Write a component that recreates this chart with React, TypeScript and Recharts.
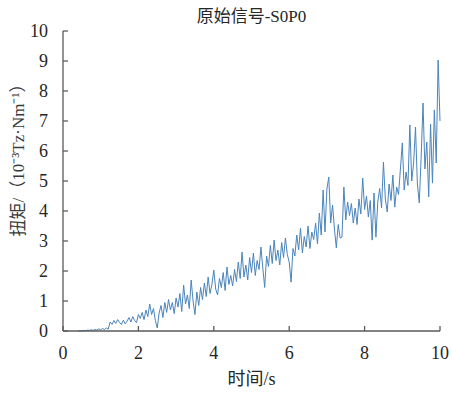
import React from "react";
import { LineChart, Line, XAxis, YAxis, Label } from "recharts";

const timeStart = 0.4;
const timeStep = 0.05;

const torque: number[] = [
  0.0, 0.01, 0.0, 0.02, 0.01, 0.03, 0.02, 0.04, 0.02, 0.05,
  0.03, 0.07, 0.04, 0.08, 0.05, 0.1, 0.06, 0.3, 0.22, 0.35,
  0.25, 0.38, 0.28, 0.22, 0.36, 0.24, 0.33, 0.45, 0.3, 0.48,
  0.35, 0.28, 0.55, 0.42, 0.62, 0.38, 0.7, 0.48, 0.9, 0.55,
  0.75, 0.35, 0.1, 0.6, 0.85, 0.45, 0.95, 0.62, 1.05, 0.7,
  0.95, 0.58, 1.1, 0.8, 1.25, 0.65, 1.53, 0.9, 1.2, 0.75,
  1.7, 1.0, 0.55, 1.3, 0.85, 1.45, 1.05, 1.6, 1.15, 1.8,
  1.25, 1.55, 2.03, 1.4, 1.2, 1.75, 1.45, 1.95, 1.35, 2.13,
  1.55, 1.85, 1.5, 2.05, 1.65, 2.3, 1.75, 2.63, 1.8, 2.2,
  1.7, 2.45, 1.95, 2.6, 1.85, 2.35, 2.05, 2.8, 2.1, 1.45,
  2.5, 2.15, 2.85, 2.25, 3.03, 2.35, 2.7, 2.2, 2.95, 2.45,
  3.1, 2.55, 2.3, 1.63, 2.75, 2.5, 3.2, 2.7, 3.43, 2.6,
  3.15, 2.8, 3.5, 2.75, 3.3, 3.05, 3.6, 2.9, 3.93, 3.2,
  4.7, 3.3, 4.73, 5.13, 3.6, 4.2, 3.4, 2.77, 3.55, 3.1,
  3.13, 4.8, 3.7, 4.3, 3.85, 4.25, 3.6, 4.1, 3.55, 4.4,
  3.9, 5.1, 4.05, 4.5, 3.8, 4.35, 3.03, 4.6, 3.13, 4.3,
  4.75, 4.1, 5.63, 4.4, 3.97, 4.9, 4.35, 5.2, 4.13, 4.8,
  4.55, 5.4, 6.27, 4.7, 5.3, 4.85, 6.87, 5.0, 5.6, 6.8,
  4.9, 4.27, 5.8, 7.6, 5.4, 6.3, 4.47, 6.9, 4.93, 7.37,
  5.6, 9.03, 7.0,
];

const xTicks = [0, 2, 4, 6, 8, 10];
const yTicks = [0, 1, 2, 3, 4, 5, 6, 7, 8, 9, 10];

const titleText = "原始信号-S0P0";
const xLabelText = "时间/s";
const yLabelText = "扭矩/（10⁻³Tz·Nm⁻¹）";

const data = torque.map((v, i) => ({
  t: Math.round((timeStart + i * timeStep) * 100) / 100,
  v,
}));

const FONT = "'Liberation Serif', 'Times New Roman', 'Noto Sans CJK SC', serif";
const AXIS_COLOR = "#5a5a5a";
const TEXT_COLOR = "#262626";

const XTick = (props: any) => {
  const { x, y, payload } = props;
  return (
    <g>
      <line x1={x} y1={y} x2={x} y2={y - 5} stroke={AXIS_COLOR} strokeWidth={1.3} />
      <text
        x={x}
        y={y + 22}
        textAnchor="middle"
        dominantBaseline="central"
        fontFamily={FONT}
        fontSize={18}
        fill={TEXT_COLOR}
      >
        {payload.value}
      </text>
    </g>
  );
};

const YTick = (props: any) => {
  const { x, y, payload } = props;
  return (
    <g>
      <line x1={x} y1={y} x2={x + 5} y2={y} stroke={AXIS_COLOR} strokeWidth={1.3} />
      <text
        x={x - 15}
        y={y}
        textAnchor="end"
        dominantBaseline="central"
        fontFamily={FONT}
        fontSize={18}
        fill={TEXT_COLOR}
      >
        {payload.value}
      </text>
    </g>
  );
};

const XLabelContent = (props: any) => {
  const vb = props.viewBox || {};
  const cx = vb.x + vb.width / 2;
  return (
    <g>
      <text
        x={cx}
        y={vb.y + 48}
        textAnchor="middle"
        dominantBaseline="central"
        fontFamily={FONT}
        fontSize={18}
        fill={TEXT_COLOR}
      >
        {xLabelText}
      </text>
      <text
        x={cx}
        y={16}
        textAnchor="middle"
        dominantBaseline="central"
        fontFamily={FONT}
        fontSize={17}
        fill={TEXT_COLOR}
      >
        {titleText}
      </text>
    </g>
  );
};

const YLabelContent = (props: any) => {
  const vb = props.viewBox || {};
  const cx = vb.x + 10;
  const cy = vb.y + vb.height / 2 - 25;
  return (
    <text
      x={cx}
      y={cy}
      transform={`rotate(-90, ${cx}, ${cy})`}
      textAnchor="middle"
      dominantBaseline="central"
      fontFamily={FONT}
      fontSize={17}
      fill="#3a3a3a"
    >
      {yLabelText}
    </text>
  );
};

export default function App() {
  return (
    <div style={{ width: 452, height: 394 }}>
      <style>{`html, body { margin: 0; padding: 0; overflow: hidden; }`}</style>
      <LineChart
        width={452}
        height={394}
        data={data}
        margin={{ top: 31, right: 12, left: 8, bottom: 8 }}
      >
        <XAxis
          dataKey="t"
          type="number"
          domain={[0, 10]}
          ticks={xTicks}
          interval={0}
          height={55}
          tickSize={0}
          tickMargin={0}
          tick={<XTick />}
          axisLine={{ stroke: AXIS_COLOR, strokeWidth: 1.3 }}
          tickLine={false}
        >
          <Label content={<XLabelContent />} />
        </XAxis>
        <YAxis
          type="number"
          domain={[0, 10]}
          ticks={yTicks}
          interval={0}
          width={55}
          tickSize={0}
          tickMargin={0}
          tick={<YTick />}
          axisLine={{ stroke: AXIS_COLOR, strokeWidth: 1.3 }}
          tickLine={false}
        >
          <Label content={<YLabelContent />} />
        </YAxis>
        <Line
          type="linear"
          dataKey="v"
          stroke="#4a84bd"
          strokeWidth={1}
          dot={false}
          isAnimationActive={false}
        />
      </LineChart>
    </div>
  );
}
